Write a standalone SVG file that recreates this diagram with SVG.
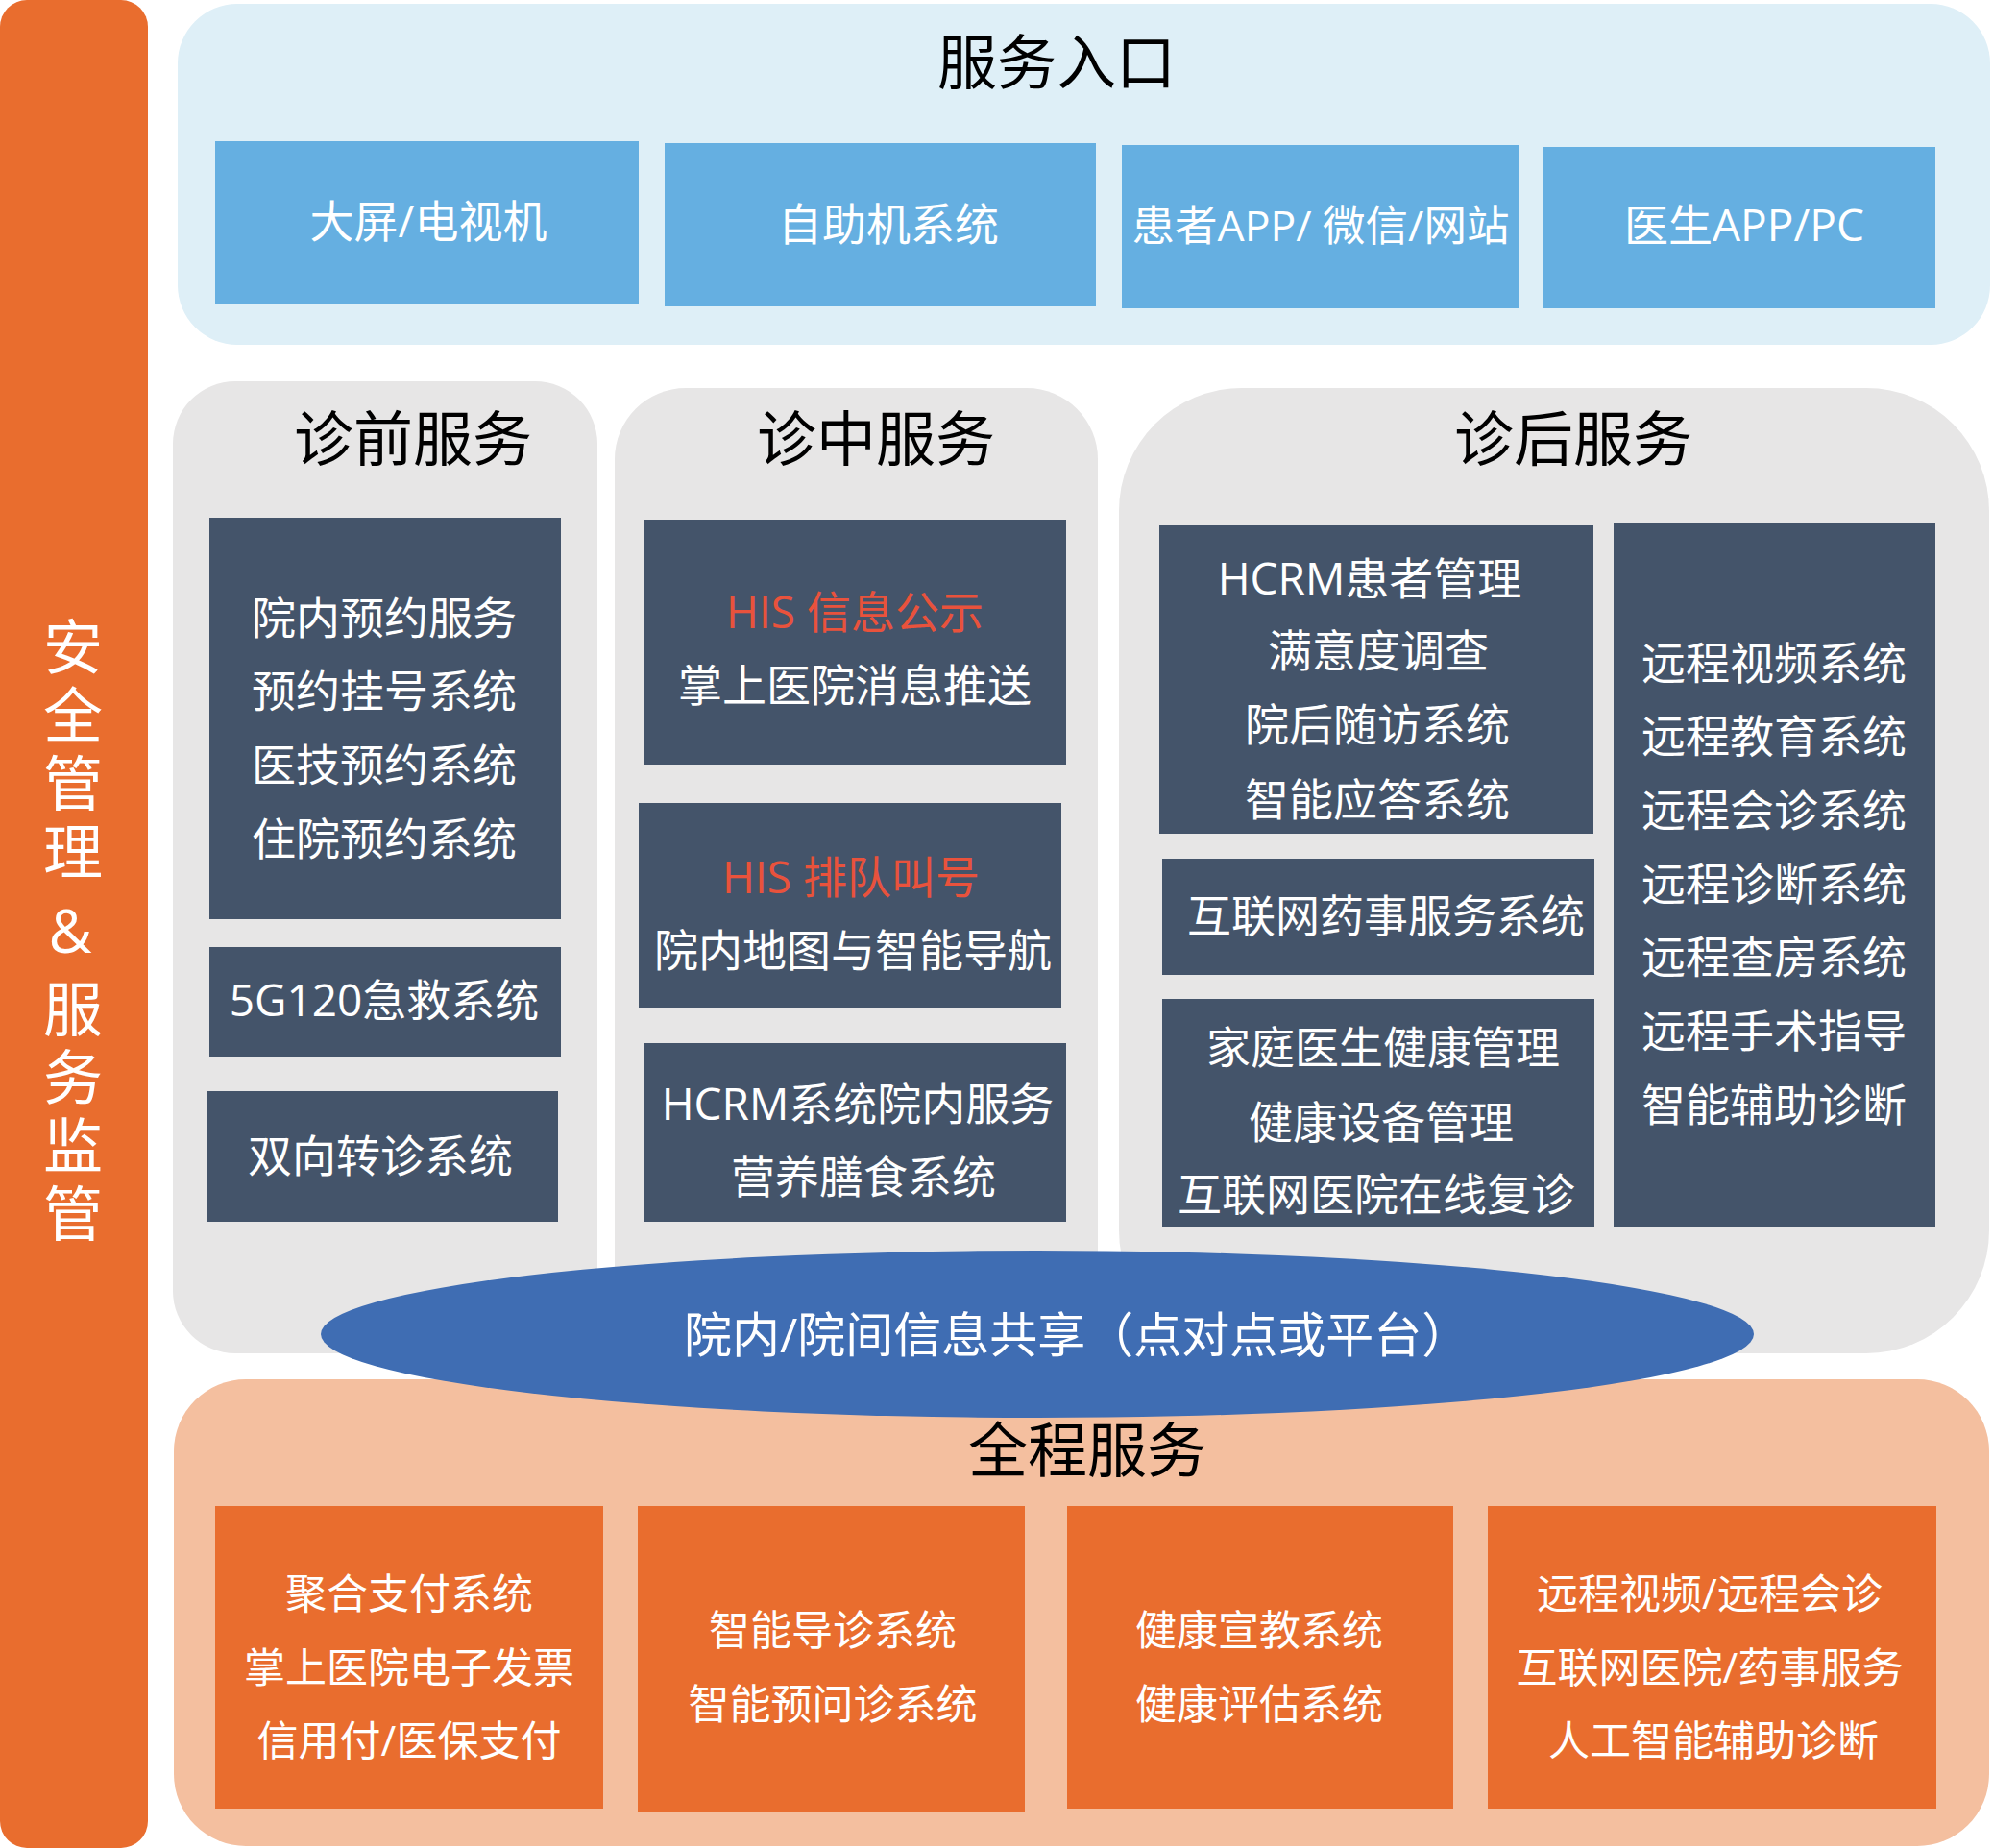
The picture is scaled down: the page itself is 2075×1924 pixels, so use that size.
<svg xmlns="http://www.w3.org/2000/svg" width="2075" height="1924" viewBox="0 0 2075 1924">
<style>
text{font-family:"Open Sans","Noto Sans CJK SC",sans-serif;text-anchor:middle}
.title{font-size:62px;fill:#000}
.blue{fill:#65AFE1}
.dark{fill:#44546A}
.org{fill:#E96D2E}
.wt{font-size:46px;fill:#fff}
.ot{font-size:43px;fill:#fff}
.red{font-size:46px;fill:#E9523C}
.bar{font-size:62px;fill:#fff;writing-mode:vertical-rl;text-orientation:upright;letter-spacing:9px;text-anchor:start}
</style>
<rect width="2075" height="1924" fill="#fff"/>
<g id="side-bar">
<rect x="0" y="0" width="154" height="1924" rx="28" fill="#E96D2E"/>
<text class="bar" x="73" y="642">安全管理&amp;服务监管</text>
</g>
<g id="service-entry">
<rect x="185" y="4" width="1887" height="355" rx="62" fill="#DEEFF7"/>
<text class="title" x="1100" y="88">服务入口</text>
</g>
<g id="entry-tv"><rect class="blue" x="224" y="147" width="441" height="170"/><text class="wt" x="446" y="247">大屏/电视机</text></g>
<g id="entry-kiosk"><rect class="blue" x="692" y="149" width="449" height="170"/><text class="wt" x="925" y="250">自助机系统</text></g>
<g id="entry-patient"><rect class="blue" x="1168" y="151" width="413" height="170"/><text class="wt" style="font-size:44.5px" x="1375" y="251">患者APP/ 微信/网站</text></g>
<g id="entry-doctor"><rect class="blue" x="1607" y="153" width="408" height="168"/><text class="wt" x="1816" y="251">医生APP/PC</text></g>

<g id="pre-service">
<rect x="180" y="397" width="442" height="1012" rx="65" fill="#E7E6E6"/>
<text class="title" x="430" y="480">诊前服务</text>
</g>
<g id="in-service">
<rect x="640" y="404" width="503" height="996" rx="74" fill="#E7E6E6"/>
<text class="title" x="912" y="480">诊中服务</text>
</g>
<g id="post-service">
<rect x="1165" y="404" width="906" height="1005" rx="128" fill="#E7E6E6"/>
<text class="title" x="1638" y="480">诊后服务</text>
</g>

<g id="pre-booking"><rect class="dark" x="218" y="539" width="366" height="418"/>
<text class="wt" x="400" y="660">院内预约服务</text>
<text class="wt" x="400" y="736">预约挂号系统</text>
<text class="wt" x="400" y="813">医技预约系统</text>
<text class="wt" x="400" y="890">住院预约系统</text></g>
<g id="pre-5g120"><rect class="dark" x="218" y="986" width="366" height="114"/><text class="wt" x="400" y="1058">5G120急救系统</text></g>
<g id="pre-referral"><rect class="dark" x="216" y="1136" width="365" height="136"/><text class="wt" x="396" y="1220">双向转诊系统</text></g>

<g id="in-his-info"><rect class="dark" x="670" y="541" width="440" height="255"/>
<text class="red" x="890" y="654">HIS 信息公示</text>
<text class="wt" x="890" y="730">掌上医院消息推送</text></g>
<g id="in-his-queue"><rect class="dark" x="665" y="836" width="440" height="213"/>
<text class="red" x="886" y="930">HIS 排队叫号</text>
<text class="wt" x="888" y="1006">院内地图与智能导航</text></g>
<g id="in-hcrm"><rect class="dark" x="670" y="1086" width="440" height="186"/>
<text class="wt" x="893" y="1166">HCRM系统院内服务</text>
<text class="wt" x="899" y="1242">营养膳食系统</text></g>

<g id="post-hcrm"><rect class="dark" x="1207" y="547" width="452" height="321"/>
<text class="wt" x="1426" y="619">HCRM患者管理</text>
<text class="wt" x="1435" y="694">满意度调查</text>
<text class="wt" x="1434" y="771">院后随访系统</text>
<text class="wt" x="1434" y="849">智能应答系统</text></g>
<g id="post-pharmacy"><rect class="dark" x="1210" y="894" width="450" height="121"/><text class="wt" x="1443" y="970">互联网药事服务系统</text></g>
<g id="post-family"><rect class="dark" x="1210" y="1040" width="450" height="237"/>
<text class="wt" x="1440" y="1107">家庭医生健康管理</text>
<text class="wt" x="1438" y="1185">健康设备管理</text>
<text class="wt" x="1433" y="1260">互联网医院在线复诊</text></g>
<g id="post-remote"><rect class="dark" x="1680" y="544" width="335" height="733"/>
<text class="wt" x="1847" y="707">远程视频系统</text>
<text class="wt" x="1847" y="783">远程教育系统</text>
<text class="wt" x="1847" y="860">远程会诊系统</text>
<text class="wt" x="1847" y="937">远程诊断系统</text>
<text class="wt" x="1847" y="1013">远程查房系统</text>
<text class="wt" x="1847" y="1090">远程手术指导</text>
<text class="wt" x="1847" y="1167">智能辅助诊断</text></g>

<g id="whole-service">
<rect x="181" y="1436" width="1890" height="486" rx="75" fill="#F4BF9F"/>
<text class="title" x="1132" y="1533">全程服务</text>
</g>
<g id="info-sharing">
<ellipse cx="1080" cy="1389" rx="746" ry="87" fill="#3F6DB3"/>
<text style="font-size:50px;fill:#fff;text-anchor:start" x="712" y="1408">院内/院间信息共享（点对点或平台）</text>
</g>

<g id="whole-pay"><rect class="org" x="224" y="1568" width="404" height="315"/>
<text class="ot" x="426" y="1675">聚合支付系统</text>
<text class="ot" x="426" y="1752">掌上医院电子发票</text>
<text class="ot" x="426" y="1828">信用付/医保支付</text></g>
<g id="whole-guide"><rect class="org" x="664" y="1568" width="403" height="318"/>
<text class="ot" x="867" y="1713">智能导诊系统</text>
<text class="ot" x="867" y="1790">智能预问诊系统</text></g>
<g id="whole-health"><rect class="org" x="1111" y="1568" width="402" height="315"/>
<text class="ot" x="1311" y="1713">健康宣教系统</text>
<text class="ot" x="1311" y="1790">健康评估系统</text></g>
<g id="whole-remote"><rect class="org" x="1549" y="1568" width="467" height="315"/>
<text class="ot" x="1780" y="1675">远程视频/远程会诊</text>
<text class="ot" x="1780" y="1752">互联网医院/药事服务</text>
<text class="ot" x="1784" y="1828">人工智能辅助诊断</text></g>
<g id="connectors"></g>
</svg>
